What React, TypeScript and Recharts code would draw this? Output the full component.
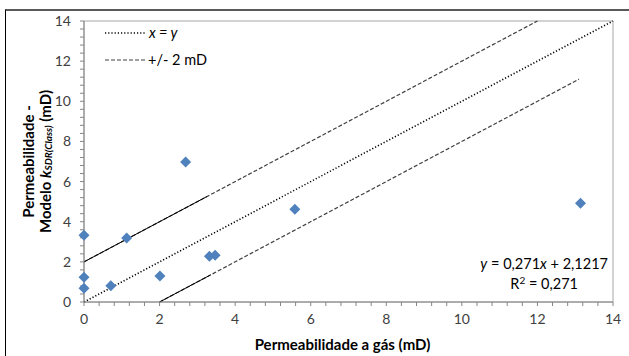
import React from "react";
import { ScatterChart, Scatter, XAxis, YAxis, ReferenceLine, ReferenceArea } from "recharts";

// permeabilidade a gás (mD) x modelo kSDR(Class) (mD)
const gasPerm = [0, 0, 0, 0.71, 1.13, 2.01, 2.69, 3.32, 3.47, 5.58, 13.14];
const modelPerm = [3.33, 1.23, 0.68, 0.81, 3.19, 1.29, 6.97, 2.28, 2.33, 4.62, 4.92];

const lineXY = [{ x: 0, y: 0 }, { x: 14, y: 14 }];
const linePlus2 = [{ x: 0, y: 2 }, { x: 12, y: 14 }];
const lineMinus2 = [{ x: 2, y: 0 }, { x: 13.1, y: 11.1 }];
// solid bits at the start of the +/- lines, as in the original
const solidPlus2 = [{ x: 0, y: 2 }, { x: 3.25, y: 5.25 }];
const solidMinus2 = [{ x: 2, y: 0 }, { x: 3.35, y: 1.35 }];

const axisTicks = [
  0, 0.4, 0.8, 1.2, 1.6, 2, 2.4, 2.8, 3.2, 3.6, 4, 4.4, 4.8, 5.2, 5.6, 6, 6.4, 6.8,
  7.2, 7.6, 8, 8.4, 8.8, 9.2, 9.6, 10, 10.4, 10.8, 11.2, 11.6, 12, 12.4, 12.8, 13.2, 13.6, 14,
];
const labelTicks = [0, 2, 4, 6, 8, 10, 12, 14];

const points = gasPerm.map((g, i) => ({ x: g, y: modelPerm[i] }));

const FONT = "Lato, 'Open Sans', sans-serif";
const AXIS = "#868686";

const tickFmt = (v: number) => {
  const hit = labelTicks.find((t) => Math.abs(t - v) < 1e-6);
  return hit === undefined ? "" : String(hit);
};

const Diamond = (props: any) => {
  const { cx, cy } = props;
  const r = 5.5;
  return (
    <polygon
      points={`${cx},${cy - r} ${cx + r},${cy} ${cx},${cy + r} ${cx - r},${cy}`}
      fill="#4F81BD"
    />
  );
};

const YLabel = (props: any) => {
  const vb = props.viewBox || {};
  const cy = vb.y + vb.height / 2;
  return (
    <g fontFamily={FONT} fontWeight="bold" fontSize={15} fill="#000">
      <text x={28} y={cy} transform={`rotate(-90, 28, ${cy})`} textAnchor="middle" dominantBaseline="central">
        Permeabilidade -
      </text>
      <text x={45} y={cy} transform={`rotate(-90, 45, ${cy})`} textAnchor="middle" dominantBaseline="central">
        Modelo <tspan fontStyle="italic">k</tspan>
        <tspan fontStyle="italic" fontSize={10} dy={3}>SDR(Class)</tspan>
        <tspan dy={-3}> (mD)</tspan>
      </text>
    </g>
  );
};

const App = () => {
  return (
    <div style={{ position: "absolute", left: 0, top: 0, width: 629, height: 356, background: "#fff", fontFamily: FONT }}>
      <div style={{ position: "absolute", left: 5, top: 9, width: 624, height: 347, borderTop: "2px solid #595959", borderLeft: "1px solid #000", boxSizing: "border-box" }} />
      <ScatterChart width={629} height={356} margin={{ top: 21, right: 16, bottom: 24, left: 24 }} style={{ fontFamily: FONT }}>
        <XAxis
          type="number"
          dataKey="x"
          domain={[0, 14]}
          ticks={axisTicks}
          interval={0}
          tickFormatter={tickFmt}
          stroke={AXIS}
          tickSize={4}
          tickMargin={8}
          tick={{ fontSize: 14, fill: "#404040" }}
          height={30}
          label={{ value: "Permeabilidade a gás (mD)", position: "insideBottom", offset: -18, dx: -6, fontWeight: "bold", fontSize: 15, fill: "#000" }}
        />
        <YAxis
          type="number"
          dataKey="y"
          domain={[0, 14]}
          ticks={axisTicks}
          interval={0}
          tickFormatter={tickFmt}
          stroke={AXIS}
          tickSize={4}
          tickMargin={9}
          tick={{ fontSize: 14, fill: "#404040" }}
          width={60}
          label={{ content: YLabel }}
        />
        <ReferenceArea x1={0} x2={14} y1={0} y2={14} fill="none" stroke="#a6a6a6" />
        <ReferenceLine segment={lineXY} stroke="#000" strokeWidth={1.6} strokeDasharray="1.2 2" />
        <ReferenceLine segment={linePlus2} stroke="#404040" strokeWidth={1.2} strokeDasharray="4 2" />
        <ReferenceLine segment={lineMinus2} stroke="#404040" strokeWidth={1.2} strokeDasharray="4 2" />
        <ReferenceLine segment={solidPlus2} stroke="#000" strokeWidth={1} />
        <ReferenceLine segment={solidMinus2} stroke="#000" strokeWidth={1} />
        <Scatter data={points} shape={Diamond} isAnimationActive={false} />
      </ScatterChart>

      {/* legend */}
      <div style={{ position: "absolute", left: 104, top: 23, fontSize: 14.5, color: "#000", lineHeight: "19px" }}>
        <div style={{ display: "flex", alignItems: "center" }}>
          <svg width={42} height={6}>
            <line x1={1} y1={3} x2={41} y2={3} stroke="#000" strokeWidth={1.6} strokeDasharray="1.2 2" />
          </svg>
          <span style={{ marginLeft: 3, fontStyle: "italic" }}>x = y</span>
        </div>
        <div style={{ display: "flex", alignItems: "center", marginTop: 8 }}>
          <svg width={42} height={6}>
            <line x1={1} y1={3} x2={41} y2={3} stroke="#404040" strokeWidth={1.2} strokeDasharray="4 2" />
          </svg>
          <span style={{ marginLeft: 2 }}>+/- 2 mD</span>
        </div>
      </div>

      {/* trendline equation */}
      <div style={{ position: "absolute", right: 21, top: 254, fontSize: 14.5, color: "#000", lineHeight: "20px", textAlign: "center" }}>
        <div>
          <i>y</i> = 0,271<i>x</i> + 2,1217
        </div>
        <div>
          R<sup style={{ fontSize: 10, verticalAlign: "5px", lineHeight: 0 }}>2</sup> = 0,271
        </div>
      </div>
    </div>
  );
};

export default App;
